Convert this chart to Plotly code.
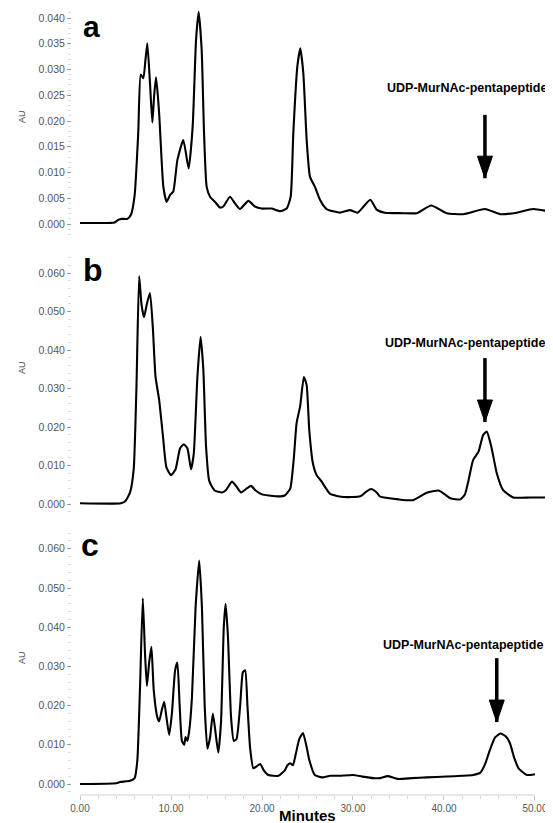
import plotly.graph_objects as go

# ---------------- data ----------------
time_a = [0.0, 2.0, 3.8, 4.2, 4.6, 5.2, 5.6, 6.0, 6.4, 6.67, 6.96, 7.2, 7.40, 7.69, 7.95, 8.15, 8.35, 8.55,
          8.72, 9.16, 9.52, 9.89, 10.25, 10.7, 11.35, 11.94, 12.38, 12.75, 13.04, 13.37, 13.63, 13.92,
          14.29, 14.84, 15.38, 15.75, 16.48, 17.03, 17.58, 18.5, 19.23, 19.96, 21.06, 21.98, 22.71,
          23.15, 23.44, 23.88, 24.21, 24.54, 24.91, 25.27, 25.82, 26.37, 27.1, 28.57, 29.67, 30.5,
          31.9, 32.6, 33.5, 35.5, 37.0, 38.6, 40.3, 42.1, 44.5, 46.2, 48.0, 49.8, 52.0]
au_a = [0.0002, 0.0002, 0.0003, 0.0008, 0.0010, 0.0010, 0.0018, 0.0055, 0.0177, 0.0290, 0.0283, 0.0320,
        0.0351, 0.0274, 0.0197, 0.0250, 0.0285, 0.0250, 0.0208, 0.0072, 0.0043, 0.0056, 0.0063, 0.0124,
        0.0163, 0.0108, 0.0189, 0.0357, 0.0412, 0.0338, 0.0177, 0.0072, 0.0053, 0.0043, 0.0032, 0.0034,
        0.0053, 0.0040, 0.0029, 0.0045, 0.0034, 0.0030, 0.0030, 0.0025, 0.0030, 0.0053, 0.0176, 0.0305,
        0.0341, 0.0293, 0.0163, 0.0092, 0.0072, 0.0047, 0.0029, 0.0022, 0.0027, 0.0022, 0.0047, 0.0028,
        0.0022, 0.0021, 0.0021, 0.0036, 0.0021, 0.0019, 0.0029, 0.0019, 0.0022, 0.0029, 0.0023]

time_b = [0.0, 4.5, 5.0, 5.5, 5.9, 6.2, 6.5, 6.75, 7.03, 7.35, 7.69, 8.0, 8.3, 8.7, 9.1, 9.5, 10.0, 10.5,
          11.0, 11.4, 11.8, 12.2, 12.5, 12.9, 13.25, 13.55, 13.85, 14.2, 14.8, 15.6, 16.0, 16.7, 17.2,
          17.7, 18.3, 18.8, 19.3, 20.0, 21.5, 22.5, 23.1, 23.5, 23.8, 24.2, 24.6, 24.9, 25.2, 25.6, 26.0,
          26.5, 27.5, 29.0, 30.8, 31.5, 32.0, 32.6, 33.0, 35.0, 36.6, 38.1, 39.4, 40.1, 40.7, 41.8, 42.3,
          42.7, 43.2, 43.8, 44.3, 44.7, 45.2, 45.8, 46.5, 47.6, 49.5, 51.9]
au_b = [0.0002, 0.0002, 0.0008, 0.0030, 0.0090, 0.0300, 0.0592, 0.0520, 0.0485, 0.0520, 0.0548, 0.0460,
        0.0330, 0.0270, 0.0180, 0.0095, 0.0075, 0.0090, 0.0145, 0.0155, 0.0145, 0.0090, 0.0130, 0.0330,
        0.0434, 0.0350, 0.0150, 0.0060, 0.0035, 0.0030, 0.0035, 0.0058, 0.0045, 0.0030, 0.0040, 0.0047,
        0.0035, 0.0025, 0.0020, 0.0022, 0.0040, 0.0120, 0.0210, 0.0255, 0.0330, 0.0310, 0.0190, 0.0105,
        0.0075, 0.0060, 0.0026, 0.0018, 0.0020, 0.0033, 0.0039, 0.0030, 0.0019, 0.0012, 0.0010, 0.0029,
        0.0035, 0.0025, 0.0015, 0.0012, 0.0025, 0.0062, 0.0114, 0.0136, 0.0179, 0.0188, 0.0149, 0.0080,
        0.0036, 0.0017, 0.0017, 0.0017]

time_c = [0.0, 4.0, 4.4, 5.5, 6.0, 6.3, 6.6, 6.9, 7.15, 7.35, 7.6, 7.85, 8.1, 8.5, 8.7, 9.0, 9.25, 9.5,
          9.8, 10.1, 10.45, 10.7, 10.95, 11.2, 11.45, 11.6, 11.8, 12.0, 12.3, 12.7, 13.1, 13.4, 13.7,
          14.0, 14.3, 14.6, 14.9, 15.2, 15.5, 15.8, 16.0, 16.25, 16.6, 16.9, 17.2, 17.6, 17.9, 18.15,
          18.4, 18.7, 19.05, 19.4, 19.8, 20.2, 20.7, 21.8, 22.5, 22.8, 23.1, 23.4, 23.7, 24.1, 24.5,
          24.9, 25.2, 25.8, 26.6, 27.5, 28.5, 30.0, 31.0, 32.2, 33.0, 33.8, 34.9, 36.5, 38.1, 40.3,
          42.0, 43.2, 44.0, 44.5, 45.05, 45.6, 46.2, 46.8, 47.25, 47.7, 48.2, 49.1, 50.0]
au_c = [0.0000, 0.0002, 0.0005, 0.0008, 0.0015, 0.0060, 0.0250, 0.0474, 0.0330, 0.0250, 0.0310, 0.0350,
        0.0240, 0.0170, 0.0160, 0.0190, 0.0210, 0.0170, 0.0125, 0.0180, 0.0290, 0.0310, 0.0200, 0.0110,
        0.0100, 0.0120, 0.0110, 0.0135, 0.0220, 0.0450, 0.0570, 0.0450, 0.0200, 0.0090, 0.0120, 0.0180,
        0.0130, 0.0080, 0.0160, 0.0400, 0.0460, 0.0380, 0.0170, 0.0110, 0.0115, 0.0200, 0.0285, 0.0290,
        0.0200, 0.0090, 0.0040, 0.0045, 0.0051, 0.0035, 0.0023, 0.0021, 0.0035, 0.0048, 0.0053, 0.0048,
        0.0075, 0.0115, 0.0130, 0.0095, 0.0061, 0.0023, 0.0017, 0.0021, 0.0021, 0.0023, 0.0019, 0.0015,
        0.0015, 0.0020, 0.0013, 0.0015, 0.0017, 0.0019, 0.0021, 0.0023, 0.0029, 0.0050, 0.0087, 0.0118,
        0.0129, 0.0121, 0.0104, 0.0068, 0.0040, 0.0023, 0.0025]

panel_labels = ["a", "b", "c"]
y_ticks_a = [0.000, 0.005, 0.010, 0.015, 0.020, 0.025, 0.030, 0.035, 0.040]
y_ticks_bc = [0.000, 0.010, 0.020, 0.030, 0.040, 0.050, 0.060]
x_ticks = [0, 10, 20, 30, 40, 50]
x_tick_labels = ["0.00", "10.00", "20.00", "30.00", "40.00", "50.00"]
peak_label = "UDP-MurNAc-pentapeptide"
# arrow tip positions (minutes, AU) per panel
arrow_tip_t = [44.5, 44.5, 45.8]
arrow_tip_v = [0.0089, 0.0213, 0.0158]
arrow_top_v = [0.0212, 0.0379, 0.0321]
label_t = [42.5, 42.3, 42.1]
label_v = [0.0264, 0.0418, 0.0355]

# ---------------- figure ----------------
# page body has an 8px margin, so the figure is 8px smaller and
# reference pixel positions are shifted by OFF.
OFF = 8
W, H = 553 - OFF, 823 - OFF
ML, MR, MT, MB = 72 - OFF, 0, 0, 28
PH = H - MT - MB
PW = W - ML - MR


def py(p):  # reference pixel row -> paper y
    return (H - MB - (p - OFF)) / PH


def px(p):  # reference pixel col -> paper x
    return (p - OFF - ML) / PW


FONT = "Arial, 'Liberation Sans', Helvetica, sans-serif"

fig = go.Figure()
series = [(time_a, au_a), (time_b, au_b), (time_c, au_c)]
for i, (t, v) in enumerate(series):
    fig.add_trace(go.Scatter(x=t, y=v, mode="lines",
                             line=dict(color="black", width=2.1, shape="spline", smoothing=0.5),
                             xaxis="x" if i == 0 else f"x{i+1}",
                             yaxis="y" if i == 0 else f"y{i+1}",
                             hoverinfo="skip", showlegend=False, cliponaxis=True))

xrange = [-0.88, 51.98]
# domain (reference pixel rows) and matching value ranges
top_a = 9
domains = [[py(235), py(top_a)], [py(515), py(252)], [0, py(528)]]
yranges = [[-(235 - 224) / 5150, (224 - top_a) / 5150],
           [-(515 - 504) / 3850, (504 - 252) / 3850],
           [-(795 - 784) / 3920, (784 - 528) / 3920]]

ax_common_y = dict(showgrid=False, zeroline=False, showline=False, ticks="outside", ticklen=4,
                   tickcolor="#9a9a9a", tickwidth=1, tickformat=".3f",
                   tickfont=dict(family=FONT, size=10.5, color="#555555"),
                   minor=dict(ticks="outside", ticklen=3, tickcolor="#dcdcdc", showgrid=False))

layout = dict(width=W, height=H, margin=dict(l=ML, r=MR, t=MT, b=MB),
              paper_bgcolor="white", plot_bgcolor="white", showlegend=False)
for i in range(3):
    xa = "xaxis" if i == 0 else f"xaxis{i+1}"
    ya = "yaxis" if i == 0 else f"yaxis{i+1}"
    xname = "x" if i == 0 else f"x{i+1}"
    yname = "y" if i == 0 else f"y{i+1}"
    xd = dict(domain=[0, 1], range=xrange, anchor=yname, showgrid=False, zeroline=False,
              showline=False, fixedrange=True)
    if i < 2:
        xd.update(showticklabels=False, ticks="")
    else:
        xd.update(tickvals=x_ticks, ticktext=x_tick_labels, ticks="outside", ticklen=4,
                  tickcolor="#c8c8c8", tickfont=dict(family=FONT, size=10, color="#555555"),
                  minor=dict(ticks="outside", ticklen=3, tickcolor="#d8d8d8", dtick=2))
    yd = dict(ax_common_y)
    yd.update(domain=domains[i], range=yranges[i], anchor=xname,
              tickvals=y_ticks_a if i == 0 else y_ticks_bc)
    yd["minor"] = dict(ax_common_y["minor"], dtick=0.001 if i == 0 else 0.002)
    layout[xa] = xd
    layout[ya] = yd
fig.update_layout(**layout)

# x axis line for bottom panel (0 to 50 only)
fig.add_shape(type="line", xref="x3", yref="paper", x0=x_ticks[0], x1=x_ticks[-1], y0=0, y1=0,
              line=dict(color="#d0d0d0", width=1))

# x title
fig.add_annotation(text="<b>Minutes</b>", xref="paper", yref="paper", x=px(307), y=py(816),
                   showarrow=False, font=dict(family=FONT, size=15, color="black"),
                   xanchor="center", yanchor="middle")

au_y = [117, 368, 658]
# panel letter: (x centre, y, anchor, size) in reference pixels
lab_pos = [(91, OFF, "top", 30), (93, 270, "middle", 32), (90, 545, "middle", 32)]
for i in range(3):
    xn = "x" if i == 0 else f"x{i+1}"
    yn = "y" if i == 0 else f"y{i+1}"
    fig.add_annotation(text="AU", xref="paper", yref="paper", x=px(22), y=py(au_y[i]),
                       showarrow=False, textangle=-90,
                       font=dict(family=FONT, size=9, color="#444444"),
                       xanchor="center", yanchor="middle")
    lx, ly, lanchor, lsize = lab_pos[i]
    fig.add_annotation(text=f"<b>{panel_labels[i]}</b>", xref="paper", yref="paper",
                       x=px(lx), y=py(ly), showarrow=False,
                       font=dict(family=FONT, size=lsize, color="black"),
                       xanchor="center", yanchor=lanchor)
    fig.add_annotation(text=f"<b>{peak_label}</b>", xref=xn, yref=yn,
                       x=label_t[i], y=label_v[i], showarrow=False,
                       font=dict(family=FONT, size=12.5, color="black"),
                       xanchor="center", yanchor="middle")
    # arrow shaft
    fig.add_shape(type="line", xref=xn, yref=yn, x0=arrow_tip_t[i], x1=arrow_tip_t[i],
                  y0=arrow_top_v[i], y1=arrow_tip_v[i], line=dict(color="black", width=3.5))
    # arrow head (pixel-sized triangle anchored at tip)
    fig.add_shape(type="path", xref=xn, yref=yn, xsizemode="pixel", ysizemode="pixel",
                  xanchor=arrow_tip_t[i], yanchor=arrow_tip_v[i],
                  path="M -7.5 22 L 7.5 22 L 0 0 Z", fillcolor="black",
                  line=dict(color="black", width=1))

fig.write_html("out.html")
